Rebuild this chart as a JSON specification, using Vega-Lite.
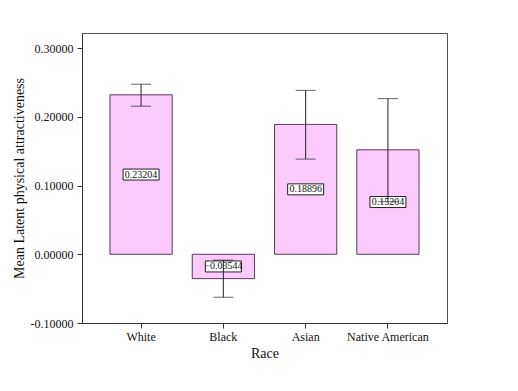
{
  "$schema": "https://vega.github.io/schema/vega-lite/v6.json",
  "width": 365,
  "height": 290,
  "autosize": "none",
  "padding": {"left": 82, "top": 33, "right": 71, "bottom": 68},
  "background": "white",
  "config": {
    "font": "Liberation Serif",
    "view": {"stroke": "#555555", "strokeWidth": 1}
  },
  "data": {
    "values": [
      {"race": "White", "mean": 0.23204, "lo": 0.2155, "hi": 0.2475},
      {"race": "Black", "mean": -0.03544, "lo": -0.0625, "hi": -0.0085},
      {"race": "Asian", "mean": 0.18896, "lo": 0.1385, "hi": 0.2385},
      {"race": "Native American", "mean": 0.15204, "lo": 0.0765, "hi": 0.2265}
    ]
  },
  "transform": [{"calculate": "datum.mean / 2", "as": "mid"}],
  "encoding": {
    "x": {
      "field": "race",
      "type": "nominal",
      "sort": null,
      "title": "Race",
      "scale": {"paddingInner": 0.244, "paddingOuter": 0.34},
      "axis": {
        "labelAngle": 0,
        "labelFontSize": 12,
        "labelColor": "#111",
        "titleFontSize": 14,
        "titleFontWeight": "normal",
        "titleColor": "#111",
        "tickColor": "#333",
        "tickSize": 5,
        "domainColor": "#333",
        "labelPadding": 3,
        "titlePadding": 4
      }
    }
  },
  "layer": [
    {
      "mark": {"type": "bar", "fill": "#fccbfc", "stroke": "#5a3a5a", "strokeWidth": 1},
      "encoding": {
        "y": {
          "field": "mean",
          "type": "quantitative",
          "title": "Mean Latent physical attractiveness",
          "scale": {"domain": [-0.1, 0.322], "nice": false, "zero": false},
          "axis": {
            "values": [-0.1, 0, 0.1, 0.2, 0.3],
            "labelExpr": "replace(format(datum.value, '.5f'), '\u2212', '-')",
            "grid": false,
            "labelFontSize": 12,
            "labelColor": "#111",
            "titleFontSize": 14,
            "titleFontWeight": "normal",
            "titleColor": "#111",
            "tickColor": "#333",
            "tickSize": 5,
            "domainColor": "#333",
            "labelPadding": 4,
            "titlePadding": 4
          }
        }
      }
    },
    {
      "mark": {"type": "tick", "orient": "horizontal", "fill": "white", "fillOpacity": 1, "stroke": "#222", "strokeWidth": 1, "size": 36, "thickness": 11, "opacity": 1},
      "encoding": {"y": {"field": "mid", "type": "quantitative"}}
    },
    {
      "mark": {"type": "text", "fontSize": 10, "color": "#111", "baseline": "middle", "align": "center"},
      "encoding": {
        "y": {"field": "mid", "type": "quantitative"},
        "text": {"field": "mean", "type": "quantitative", "format": ".5f"}
      }
    },
    {
      "mark": {"type": "rule", "color": "#222", "strokeWidth": 1},
      "encoding": {
        "y": {"field": "lo", "type": "quantitative"},
        "y2": {"field": "hi"}
      }
    },
    {
      "mark": {"type": "tick", "orient": "horizontal", "color": "#222", "size": 20, "thickness": 1},
      "encoding": {"y": {"field": "lo", "type": "quantitative"}}
    },
    {
      "mark": {"type": "tick", "orient": "horizontal", "color": "#222", "size": 20, "thickness": 1},
      "encoding": {"y": {"field": "hi", "type": "quantitative"}}
    }
  ]
}
